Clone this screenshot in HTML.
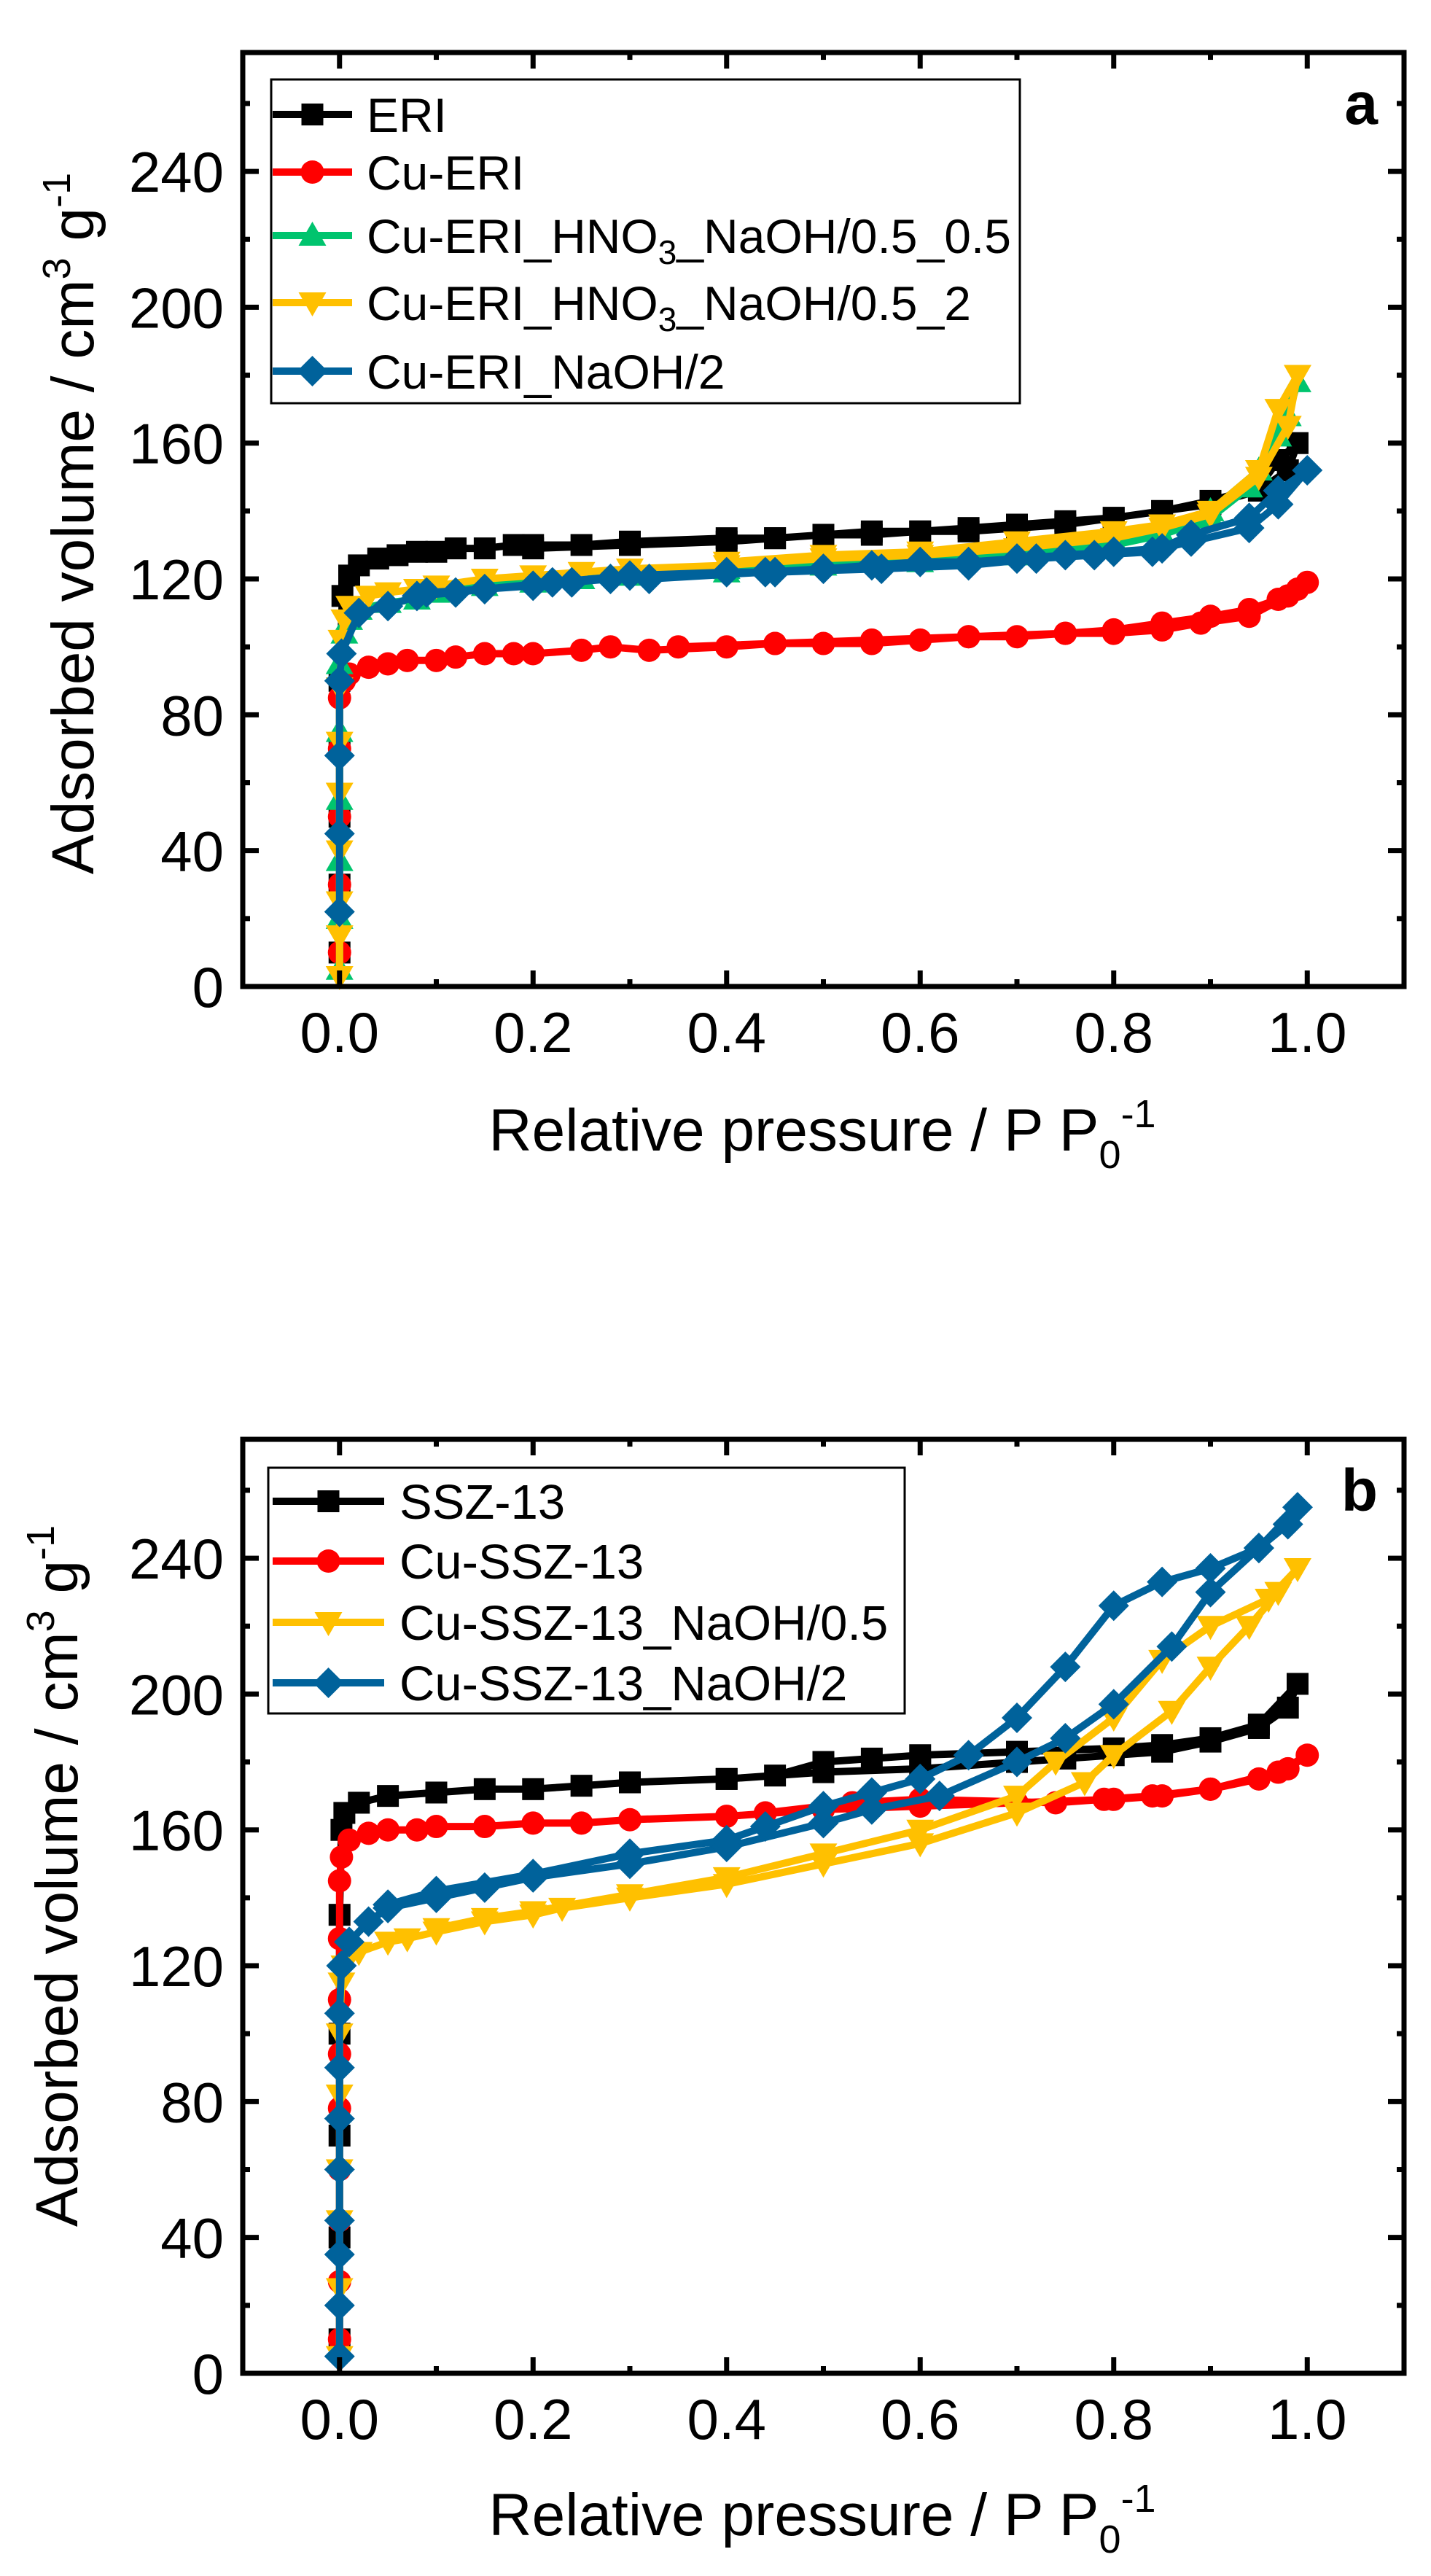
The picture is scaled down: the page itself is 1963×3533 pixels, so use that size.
<!DOCTYPE html>
<html><head><meta charset="utf-8"><style>
html,body{margin:0;padding:0;background:#fff}
svg{display:block}
text{font-family:"Liberation Sans",Arial,sans-serif;fill:#000}
</style></head><body>
<svg id="fig" width="1963" height="3533" viewBox="0 0 1963 3533" xmlns="http://www.w3.org/2000/svg"></svg>
<script>
// ---- shared axis data ----
const xTicks = [0.0, 0.2, 0.4, 0.6, 0.8, 1.0];
const xTickLabels = ["0.0", "0.2", "0.4", "0.6", "0.8", "1.0"];
const yTicks = [0, 40, 80, 120, 160, 200, 240];
const yTickLabels = ["0", "40", "80", "120", "160", "200", "240"];

// ---- panel a data ----
const eriA = [[0,10],[0,30],[0,50],[0,70],[0,90],[0.003,115],[0.01,121],[0.02,124],[0.04,126],[0.06,127],[0.08,128],[0.1,128],[0.12,129],[0.15,129],[0.18,130],[0.2,130],[0.25,130],[0.3,131],[0.4,132],[0.45,132],[0.5,133],[0.55,133],[0.6,134],[0.65,134],[0.7,135],[0.75,136],[0.8,138],[0.85,140],[0.9,142],[0.95,146],[0.98,152],[0.99,160],[0.97,155],[0.95,147],[0.9,143],[0.85,140],[0.8,138],[0.75,137],[0.7,136],[0.65,135],[0.6,134],[0.55,134],[0.5,133],[0.45,132],[0.4,131],[0.3,130],[0.2,129]];
const cuEriA = [[0,10],[0,30],[0,50],[0,70],[0,85],[0.005,90],[0.01,92],[0.03,94],[0.05,95],[0.07,96],[0.1,96],[0.12,97],[0.15,98],[0.18,98],[0.2,98],[0.25,99],[0.28,100],[0.32,99],[0.4,100],[0.45,101],[0.5,101],[0.55,101],[0.6,102],[0.65,103],[0.7,103],[0.75,104],[0.8,105],[0.85,107],[0.9,109],[0.94,111],[0.97,114],[0.99,117],[1.0,119],[0.98,115],[0.94,109],[0.89,107],[0.85,105],[0.8,104],[0.75,104],[0.65,103],[0.55,102],[0.45,101],[0.35,100]];
const hno3_05A = [[0,5],[0,20],[0,37],[0,55],[0,75],[0,95],[0.005,104],[0.01,108],[0.02,111],[0.05,113],[0.08,114],[0.1,116],[0.15,118],[0.2,119],[0.25,120],[0.3,121],[0.4,122],[0.5,124],[0.6,125],[0.7,127],[0.8,130],[0.85,133],[0.9,140],[0.95,152],[0.98,168],[0.99,178],[0.97,162],[0.94,147],[0.9,138],[0.85,133],[0.8,131],[0.7,128],[0.6,126],[0.5,125],[0.4,123],[0.3,122]];
const hno3_2A = [[0,3],[0,15],[0,25],[0,40],[0,57],[0,72],[0,88],[0.002,102],[0.005,108],[0.01,112],[0.03,115],[0.05,116],[0.08,117],[0.1,118],[0.15,120],[0.2,121],[0.25,122],[0.3,123],[0.4,124],[0.5,126],[0.6,127],[0.7,129],[0.8,132],[0.85,135],[0.9,139],[0.95,150],[0.98,165],[0.99,180],[0.97,170],[0.95,152],[0.9,140],[0.85,136],[0.8,134],[0.7,131],[0.6,128],[0.5,127],[0.4,125]];
const naoh2A = [[0,22],[0,45],[0,68],[0,90],[0.002,98],[0.02,110],[0.05,112],[0.08,115],[0.12,116],[0.15,117],[0.2,118],[0.24,119],[0.28,120],[0.32,120],[0.44,122],[0.5,123],[0.55,124],[0.6,125],[0.65,125],[0.7,126],[0.75,127],[0.8,128],[0.85,129],[0.88,131],[0.94,135],[0.97,142],[1.0,152],[0.97,146],[0.94,138],[0.88,133],[0.84,128],[0.78,127],[0.72,126],[0.65,124],[0.56,123],[0.45,122],[0.4,122],[0.3,121],[0.22,119],[0.15,117],[0.09,116]];

// ---- panel b data ----
const ssz13B = [[0,10],[0,40],[0,70],[0,100],[0,135],[0.002,160],[0.005,165],[0.02,168],[0.05,170],[0.1,171],[0.15,172],[0.2,172],[0.25,173],[0.3,174],[0.4,175],[0.5,177],[0.6,178],[0.7,180],[0.75,181],[0.8,182],[0.85,183],[0.9,186],[0.95,190],[0.98,196],[0.99,203],[0.95,191],[0.9,187],[0.85,185],[0.8,184],[0.7,183],[0.6,182],[0.55,181],[0.5,180],[0.45,176],[0.4,175]];
const cuSszB = [[0,10],[0,27],[0,45],[0,60],[0,78],[0,94],[0,110],[0,128],[0,145],[0.002,152],[0.01,157],[0.03,159],[0.05,160],[0.08,160],[0.1,161],[0.15,161],[0.2,162],[0.25,162],[0.3,163],[0.4,164],[0.5,166],[0.6,167],[0.7,168],[0.8,169],[0.85,170],[0.9,172],[0.95,175],[0.98,178],[1.0,182],[0.97,177],[0.9,172],[0.84,170],[0.79,169],[0.74,168],[0.6,169],[0.53,168],[0.44,165]];
const naoh05B = [[0,5],[0,25],[0,45],[0,60],[0,82],[0,100],[0.002,115],[0.005,120],[0.02,124],[0.05,127],[0.07,128],[0.1,130],[0.15,133],[0.2,135],[0.23,137],[0.3,140],[0.4,144],[0.5,150],[0.6,156],[0.7,165],[0.77,174],[0.8,182],[0.86,195],[0.9,208],[0.94,220],[0.97,230],[0.99,237],[0.96,228],[0.9,220],[0.85,210],[0.8,193],[0.74,180],[0.7,170],[0.6,160],[0.5,153],[0.4,146],[0.3,141],[0.2,136],[0.15,134],[0.1,131]];
const naoh2B = [[0,5],[0,20],[0,35],[0,45],[0,60],[0,75],[0,90],[0,106],[0.002,120],[0.01,127],[0.03,133],[0.05,137],[0.1,140],[0.15,143],[0.2,146],[0.3,150],[0.4,155],[0.5,162],[0.55,166],[0.62,170],[0.7,180],[0.75,187],[0.8,197],[0.86,214],[0.9,230],[0.95,243],[0.98,250],[0.99,255],[0.95,243],[0.9,237],[0.85,233],[0.8,226],[0.75,208],[0.7,193],[0.65,182],[0.6,175],[0.55,171],[0.5,167],[0.44,161],[0.4,157],[0.3,153],[0.2,147],[0.1,142],[0.05,138]];

const NS = "http://www.w3.org/2000/svg";
const svg = document.getElementById('fig');
function mk(tag, attrs, parent){
  const e = document.createElementNS(NS, tag);
  for (const k in attrs) e.setAttribute(k, attrs[k]);
  (parent||svg).appendChild(e);
  return e;
}

const X0 = 333, X1 = 1926, XMIN = -0.1, XMAX = 1.1, YMAX = 275;
function sx(v){ return X0 + (v - XMIN) / (XMAX - XMIN) * (X1 - X0); }

function marker(g, shape, cx, cy, color){
  let m;
  if (shape === 'square') m = mk('rect', {x:cx-15, y:cy-15, width:30, height:30, fill:color}, g);
  else if (shape === 'circle') m = mk('circle', {cx:cx, cy:cy, r:16, fill:color}, g);
  else if (shape === 'up') m = mk('polygon', {points:`${cx},${cy-19} ${cx+19},${cy+14} ${cx-19},${cy+14}`, fill:color}, g);
  else if (shape === 'down') m = mk('polygon', {points:`${cx-19},${cy-14} ${cx+19},${cy-14} ${cx},${cy+19}`, fill:color}, g);
  else m = mk('polygon', {points:`${cx},${cy-21} ${cx+21},${cy} ${cx},${cy+21} ${cx-21},${cy}`, fill:color}, g);
  return m;
}

function panel(opts){
  const YB = opts.yBottom, YT = YB - YMAX * 4.658;
  const sy = v => YB - v / YMAX * (YB - YT);
  const g = mk('g', {});
  
  

  opts.series.forEach(s => {
    const sg = mk('g', {}, g);
    
    
    const pts = s.data.map(p => sx(p[0]).toFixed(1) + ',' + sy(p[1]).toFixed(1)).join(' ');
    mk('polyline', {points:pts, fill:'none', stroke:s.color, 'stroke-width':10, 'stroke-linejoin':'round', 'stroke-linecap':'round'}, sg);
    s.data.forEach(p => {
      const m = marker(sg, s.shape, sx(p[0]), sy(p[1]), s.color);
      
      
    });
  });

  const fr = mk('rect', {x:X0, y:YT, width:X1-X0, height:YB-YT, fill:'none', stroke:'#000', 'stroke-width':7}, g);
  
  

  for (let i = 0; i <= 10; i++){
    const v = i / 10, px = sx(v), major = (i % 2 === 0);
    const L = major ? 22 : 10;
    mk('line', {x1:px, y1:YB, x2:px, y2:YB-L, stroke:'#000', 'stroke-width':7}, g);
    mk('line', {x1:px, y1:YT, x2:px, y2:YT+L, stroke:'#000', 'stroke-width':7}, g);
  }
  xTicks.forEach((v, i) => {
    const t = mk('text', {x:sx(v), y:YB+90, 'font-size':78, 'text-anchor':'middle'}, g);
    t.textContent = xTickLabels[i];
    
    
  });
  for (let v = 0; v <= 260; v += 20){
    const py = sy(v), major = (v % 40 === 0), L = major ? 22 : 10;
    mk('line', {x1:X0, y1:py, x2:X0+L, y2:py, stroke:'#000', 'stroke-width':7}, g);
    mk('line', {x1:X1, y1:py, x2:X1-L, y2:py, stroke:'#000', 'stroke-width':7}, g);
  }
  yTicks.forEach((v, i) => {
    const t = mk('text', {x:307, y:sy(v)+28, 'font-size':78, 'text-anchor':'end'}, g);
    t.textContent = yTickLabels[i];
    
    
  });

  const xt = mk('text', {x:1128, y:opts.xTitleY, 'font-size':82, 'text-anchor':'middle'}, g);
  xt.innerHTML = 'Relative pressure / P P<tspan font-size="54" dy="24">0</tspan><tspan font-size="54" dy="-56">-1</tspan>';
  
  
  const yt = mk('text', {x:0, y:0, 'font-size':82, 'text-anchor':'middle', transform:`translate(${opts.yTitleX},${opts.yTitleC}) rotate(-90)`, 'xml:space':'preserve'}, g);
  yt.innerHTML = opts.yTitle + ' cm<tspan font-size="54" dy="-32">3</tspan><tspan dy="32"> g</tspan><tspan font-size="54" dy="-32">-1</tspan>';
  
  

  const pl = mk('text', {x:1890, y:YT+98, 'font-size':82, 'font-weight':'bold', 'text-anchor':'end'}, g);
  pl.textContent = opts.letter;
  
  

  const lg = mk('g', {}, g);
  
  
  const Lb = opts.legend;
  mk('rect', {x:Lb.x, y:Lb.y, width:Lb.w, height:Lb.h, fill:'#fff', stroke:'#000', 'stroke-width':3}, lg);
  opts.series.forEach((s, i) => {
    const ry = Lb.rows[i];
    const eg = mk('g', {}, lg);
    
    
    mk('line', {x1:Lb.lx1, y1:ry, x2:Lb.lx2, y2:ry, stroke:s.color, 'stroke-width':10}, eg);
    marker(eg, s.shape, (Lb.lx1+Lb.lx2)/2, ry, s.color);
    const t = mk('text', {x:Lb.tx, y:ry+24, 'font-size':Lb.fs}, eg);
    t.innerHTML = s.label;
  });
}

panel({
  name:'panel-a', letter:'a', yBottom:1353, xTitleY:1578, yTitleX:128, yTitleC:718,
  yTitle:'Adsorbed volume  /',
  legend:{x:372, y:109, w:1027, h:444, rows:[157,236,323,415,509], lx1:374, lx2:483, tx:503, fs:66},
  series:[
    {id:'eri', label:'ERI', color:'#000000', shape:'square', data:eriA},
    {id:'cu-eri', label:'Cu-ERI', color:'#ff0000', shape:'circle', data:cuEriA},
    {id:'cu-eri-hno3-naoh-05-05', label:'Cu-ERI_HNO<tspan font-size="46" dy="15">3</tspan><tspan dy="-15">_NaOH/0.5_0.5</tspan>', color:'#00c46e', shape:'up', data:hno3_05A},
    {id:'cu-eri-hno3-naoh-05-2', label:'Cu-ERI_HNO<tspan font-size="46" dy="15">3</tspan><tspan dy="-15">_NaOH/0.5_2</tspan>', color:'#ffc000', shape:'down', data:hno3_2A},
    {id:'cu-eri-naoh-2', label:'Cu-ERI_NaOH/2', color:'#00629b', shape:'diamond', data:naoh2A}
  ]
});
panel({
  name:'panel-b', letter:'b', yBottom:3255, xTitleY:3477, yTitleX:106, yTitleC:2573,
  yTitle:'Adsorbed volume /',
  legend:{x:368, y:2013, w:873, h:337, rows:[2059,2141,2225,2308], lx1:374, lx2:527, tx:548, fs:67},
  series:[
    {id:'ssz-13', label:'SSZ-13', color:'#000000', shape:'square', data:ssz13B},
    {id:'cu-ssz-13', label:'Cu-SSZ-13', color:'#ff0000', shape:'circle', data:cuSszB},
    {id:'cu-ssz-13-naoh-05', label:'Cu-SSZ-13_NaOH/0.5', color:'#ffc000', shape:'down', data:naoh05B},
    {id:'cu-ssz-13-naoh-2', label:'Cu-SSZ-13_NaOH/2', color:'#00629b', shape:'diamond', data:naoh2B}
  ]
});
</script>
</body></html>
